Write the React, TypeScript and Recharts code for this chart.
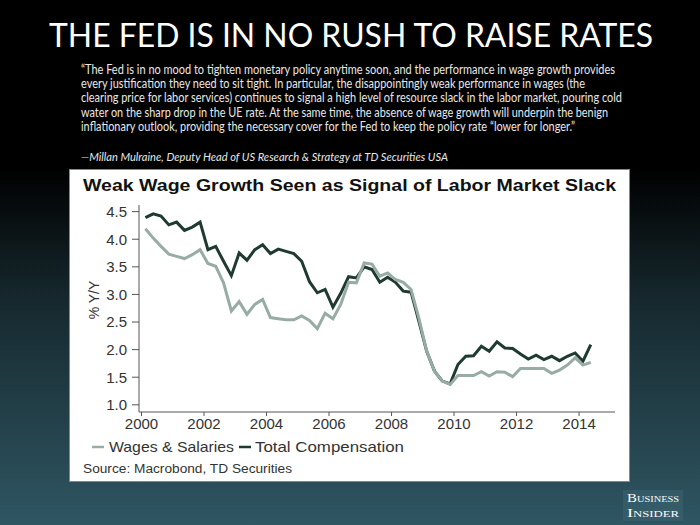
import React from "react";
import { LineChart, Line, XAxis, YAxis } from "recharts";

// quarterly series, 2000Q1 .. 2014Q2
const startYear = 2000;

const wagesSalaries = [
  4.19, 4.02, 3.87, 3.73, 3.69, 3.65, 3.72, 3.81, 3.56, 3.51, 3.21, 2.7,
  2.87, 2.64, 2.82, 2.91, 2.58, 2.56, 2.54, 2.54, 2.61, 2.53, 2.38, 2.66,
  2.56, 2.82, 3.22, 3.21, 3.57, 3.55, 3.33, 3.39, 3.27, 3.22, 3.09, 2.57,
  1.97, 1.61, 1.43, 1.37, 1.53, 1.53, 1.53, 1.6, 1.52, 1.6, 1.59, 1.51,
  1.66, 1.66, 1.66, 1.66, 1.57, 1.63, 1.72, 1.85, 1.72, 1.77,
];

const totalCompensation = [
  4.39, 4.46, 4.42, 4.26, 4.31, 4.16, 4.22, 4.31, 3.81, 3.87, 3.6, 3.34,
  3.75, 3.62, 3.81, 3.9, 3.74, 3.82, 3.78, 3.74, 3.6, 3.23, 3.03, 3.09,
  2.77, 3.02, 3.32, 3.3, 3.5, 3.45, 3.22, 3.31, 3.22, 3.06, 3.04, 2.51,
  1.97, 1.61, 1.43, 1.38, 1.73, 1.88, 1.89, 2.06, 1.97, 2.14, 2.03, 2.02,
  1.92, 1.83, 1.9, 1.82, 1.88, 1.8, 1.88, 1.94, 1.79, 2.09,
];

const xTicks = [2000, 2002, 2004, 2006, 2008, 2010, 2012, 2014];
const yTicks = [1.0, 1.5, 2.0, 2.5, 3.0, 3.5, 4.0, 4.5];

const seriesNames = ["Wages & Salaries", "Total Compensation"];

const quoteLines = [
  "\u201cThe Fed is in no mood to tighten monetary policy anytime soon, and the performance in wage growth provides",
  "every justification they need to sit tight. In particular, the disappointingly weak performance in wages (the",
  "clearing price for labor services) continues to signal a high level of resource slack in the labor market, pouring cold",
  "water on the sharp drop in the UE rate. At the same time, the absence of wage growth will underpin the benign",
  "inflationary outlook, providing the necessary cover for the Fed to keep the policy rate \u201clower for longer.\u201d",
];
const quoteWidths = [534, 504, 541, 527, 494];

const data = wagesSalaries.map((w, i) => ({
  t: startYear + 0.125 + i * 0.25,
  wages: w,
  total: totalCompensation[i],
}));

export default function App() {
  const lightColor = "#97aca4"; // wages
  const darkColor = "#1f3a31"; // total comp
  const axisFont = "'Liberation Sans', Arial, sans-serif";

  return (
    <div
      style={{
        position: "absolute",
        left: 0,
        top: 0,
        width: 700,
        height: 525,
        overflow: "hidden",
        background:
          "linear-gradient(180deg, #000 0%, #000 32%, #16282e 57%, #2f5663 100%)",
      }}
    >
      {/* slide text */}
      <svg
        width={700}
        height={170}
        style={{ position: "absolute", left: 0, top: 0 }}
      >
        <text
          x={49}
          y={47}
          fill="#fff"
          fontFamily="Lato, sans-serif"
          fontSize={33}
          textLength={604}
          lengthAdjust="spacingAndGlyphs"
        >
          THE FED IS IN NO RUSH TO RAISE RATES
        </text>
        {quoteLines.map((line, i) => (
          <text
            key={i}
            x={81}
            y={74 + i * 14.2}
            fill="#e8e8e8"
            fontFamily="Lato, sans-serif"
            fontSize={12.5}
            textLength={quoteWidths[i]}
            lengthAdjust="spacingAndGlyphs"
          >
            {line}
          </text>
        ))}
        <text
          x={81}
          y={161}
          fill="#e8e8e8"
          fontFamily="Lato, sans-serif"
          fontStyle="italic"
          fontSize={12}
          textLength={367}
          lengthAdjust="spacingAndGlyphs"
        >
          {"\u2014Millan Mulraine, Deputy Head of US Research & Strategy at TD Securities USA"}
        </text>
      </svg>

      {/* white chart panel */}
      <div
        style={{
          position: "absolute",
          left: 69,
          top: 169,
          width: 559,
          height: 311,
          background: "#fff",
          border: "1px solid #7d8a8e",
        }}
      />

      <div style={{ position: "absolute", left: 0, top: 0 }}>
        <LineChart
          width={700}
          height={525}
          data={data}
          margin={{ top: 205, right: 85, bottom: 83, left: 79 }}
        >
          <XAxis
            dataKey="t"
            type="number"
            domain={[1999.92, 2015.15]}
            ticks={xTicks}
            allowDataOverflow
            height={30}
            tickSize={4}
            tickMargin={2}
            stroke="#555"
            tick={{ fill: "#333", fontSize: 15, fontFamily: axisFont }}
          />
          <YAxis
            type="number"
            domain={[0.87, 4.62]}
            ticks={yTicks}
            allowDataOverflow
            width={60}
            tickSize={7}
            tickMargin={5}
            stroke="#555"
            tickFormatter={(v: number) => v.toFixed(1)}
            tick={{ fill: "#333", fontSize: 15, fontFamily: axisFont }}
          />
          <Line
            dataKey="total"
            name={seriesNames[1]}
            type="linear"
            stroke={darkColor}
            strokeWidth={3}
            dot={false}
            isAnimationActive={false}
          />
          <Line
            dataKey="wages"
            name={seriesNames[0]}
            type="linear"
            stroke={lightColor}
            strokeWidth={3}
            dot={false}
            isAnimationActive={false}
          />
        </LineChart>
      </div>

      {/* chart title, y label, legend, source */}
      <svg
        width={700}
        height={525}
        style={{ position: "absolute", left: 0, top: 0, pointerEvents: "none" }}
      >
        <text
          x={83}
          y={191}
          fill="#111"
          fontFamily={axisFont}
          fontWeight="bold"
          fontSize={17}
          textLength={533}
          lengthAdjust="spacingAndGlyphs"
        >
          Weak Wage Growth Seen as Signal of Labor Market Slack
        </text>
        <text
          transform="translate(99,300) rotate(-90)"
          textAnchor="middle"
          fill="#333"
          fontFamily={axisFont}
          fontSize={14}
        >
          % Y/Y
        </text>

        <line x1={92} y1={447} x2={104} y2={447} stroke={lightColor} strokeWidth={2.5} />
        <text
          x={109}
          y={452}
          fill="#333"
          fontFamily={axisFont}
          fontSize={15}
          textLength={125}
          lengthAdjust="spacingAndGlyphs"
        >
          {seriesNames[0]}
        </text>
        <line x1={239} y1={447} x2={251} y2={447} stroke={darkColor} strokeWidth={2.5} />
        <text
          x={255}
          y={452}
          fill="#333"
          fontFamily={axisFont}
          fontSize={15}
          textLength={149}
          lengthAdjust="spacingAndGlyphs"
        >
          {seriesNames[1]}
        </text>

        <text
          x={83}
          y={473}
          fill="#333"
          fontFamily={axisFont}
          fontSize={12}
          textLength={209}
          lengthAdjust="spacingAndGlyphs"
        >
          Source: Macrobond, TD Securities
        </text>

        {/* logo */}
        <rect x={623} y={490} width={60} height={31} fill="#3a6270" opacity={0.6} />
        <text
          x={627}
          y={502}
          fill="#fff"
          fontFamily="'Liberation Serif', serif"
          fontSize={11.5}
          fontVariant="small-caps"
          textLength={52}
          lengthAdjust="spacingAndGlyphs"
        >
          Business
        </text>
        <text
          x={627}
          y={517}
          fill="#fff"
          fontFamily="'Liberation Serif', serif"
          fontSize={11.5}
          fontVariant="small-caps"
          textLength={52}
          lengthAdjust="spacingAndGlyphs"
        >
          Insider
        </text>
      </svg>
    </div>
  );
}
